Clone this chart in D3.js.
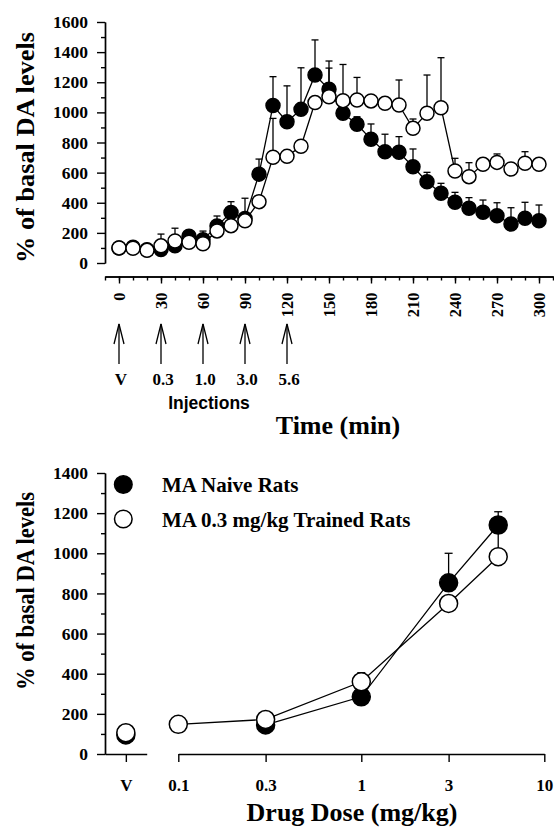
<!DOCTYPE html>
<html>
<head>
<meta charset="utf-8">
<script src="https://cdn.jsdelivr.net/npm/d3@7"></script>
<style>
	html, body { margin: 0; padding: 0; background: #fff; }
	svg { display: block; }
	.serif { font-family: "Liberation Serif", "Times New Roman", serif; font-weight: bold; }
	.sans { font-family: "Liberation Sans", Arial, sans-serif; font-weight: bold; }
</style>
</head>
<body>
<script>
//--time course data (top panel)
var timeMin = [0, 10, 20, 30, 40, 50, 60, 70, 80, 90, 100, 110, 120, 130, 140, 150, 160, 170, 180, 190, 200, 210, 220, 230, 240, 250, 260, 270, 280, 290, 300];
var naiveMean = [100, 105, 88, 90, 115, 178, 155, 245, 335, 295, 590, 1045, 938, 1020, 1248, 1153, 994, 921, 821, 739, 735, 639, 540, 463, 403, 363, 337, 314, 259, 297, 281];
var naiveSem = [8, 10, 8, 10, 10, 15, 57, 67, 72, 25, 100, 192, 238, 276, 233, 188, 40, 50, 102, 116, 104, 118, 62, 66, 66, 71, 81, 86, 108, 106, 104];
var trainedMean = [100, 98, 84, 114, 146, 138, 128, 213, 248, 280, 407, 702, 708, 775, 1065, 1104, 1078, 1082, 1076, 1060, 1049, 894, 994, 1031, 611, 573, 655, 668, 624, 662, 655];
var trainedSem = [5, 5, 5, 78, 85, 10, 10, 10, 10, 150, 20, 258, 0, 20, 0, 190, 240, 150, 0, 0, 166, 62, 254, 332, 84, 93, 20, 56, 0, 77, 0];
var timeTicks = [0, 30, 60, 90, 120, 150, 180, 210, 240, 270, 300];
var injTime = [0, 30, 60, 90, 120];
var injLabel = ["V", "0.3", "1.0", "3.0", "5.6"];

//--dose response data (bottom panel)
var doseVeh = ["V"];
var doses = [0.1, 0.3, 1, 3, 5.6];
var naiveVeh = 95;
var trainedVeh = 106;
var naiveDose = [null, 145, 285, 853, 1141];
var naiveDoseSem = [0, 0, 0, 147, 66];
var trainedDose = [148, 172, 360, 750, 983];
var trainedDoseSem = [0, 0, 45, 0, 140];
var doseTicks = [0.1, 0.3, 1, 3, 10];
var legendNames = ["MA Naive Rats", "MA 0.3 mg/kg Trained Rats"];

var svg = d3.select("body").append("svg")
	.attr("width", 554)
	.attr("height", 828);

function style_axis(g, fs) {
	g.select(".domain").attr("stroke", "#000").attr("stroke-width", 1.4);
	g.selectAll(".tick line").attr("stroke", "#000").attr("stroke-width", 1.4);
	g.selectAll(".tick text")
		.attr("class", "serif")
		.attr("fill", "#000")
		.style("font-size", fs + "px");
}

//draw one series: lines, error bars, markers
function draw_series(g, pts, x, y, r, filled, cap) {
	var line = d3.line()
		.defined(function (d) { return d.v != null; })
		.x(function (d) { return x(d.k); })
		.y(function (d) { return y(d.v); });
	g.append("path")
		.datum(pts)
		.attr("d", line)
		.attr("fill", "none")
		.attr("stroke", "#000")
		.attr("stroke-width", 1.3);
	return {
		errors: function () {
			var e = pts.filter(function (d) { return d.v != null && d.s > 0; });
			g.selectAll(null).data(e).enter().append("line")
				.attr("x1", function (d) { return x(d.k); })
				.attr("x2", function (d) { return x(d.k); })
				.attr("y1", function (d) { return y(d.v); })
				.attr("y2", function (d) { return y(d.v + d.s); })
				.attr("stroke", "#000").attr("stroke-width", 1.3);
			g.selectAll(null).data(e).enter().append("line")
				.attr("x1", function (d) { return x(d.k) - cap; })
				.attr("x2", function (d) { return x(d.k) + cap; })
				.attr("y1", function (d) { return y(d.v + d.s); })
				.attr("y2", function (d) { return y(d.v + d.s); })
				.attr("stroke", "#000").attr("stroke-width", 1.3);
		},
		markers: function () {
			g.selectAll(null).data(pts.filter(function (d) { return d.v != null; })).enter().append("circle")
				.attr("cx", function (d) { return x(d.k); })
				.attr("cy", function (d) { return y(d.v); })
				.attr("r", r)
				.attr("fill", filled ? "#000" : "#fff")
				.attr("stroke", "#000")
				.attr("stroke-width", 1.5);
		}
	};
}

/*--top panel--*/
var xT = d3.scaleLinear().domain([-10, 310]).range([105, 553]);
var yT = d3.scaleLinear().domain([0, 1600]).range([263, 22]);

var gyT = svg.append("g").attr("transform", "translate(105,0)")
	.call(d3.axisLeft(yT).tickValues(d3.range(0, 1601, 200)).tickSize(8).tickSizeOuter(0).tickPadding(9).tickFormat(d3.format("d")));
style_axis(gyT, 17.5);
var gyTm = svg.append("g").attr("transform", "translate(105,0)")
	.call(d3.axisLeft(yT).tickValues(d3.range(100, 1600, 200)).tickSize(4).tickSizeOuter(0).tickFormat(""));
style_axis(gyTm, 17);

var gxT = svg.append("g").attr("transform", "translate(0,276.5)")
	.call(d3.axisBottom(xT).tickValues(timeTicks).tickSize(7).tickSizeOuter(0).tickFormat(d3.format("d")));
style_axis(gxT, 16.5);
gxT.selectAll(".tick text")
	.attr("text-anchor", "end")
	.attr("transform", "translate(5.5,16) rotate(-90)")
	.attr("x", 0).attr("y", 0).attr("dy", 0);
var gxTm = svg.append("g").attr("transform", "translate(0,276.5)")
	.call(d3.axisBottom(xT).tickValues(d3.range(-10, 311, 10)).tickSize(4).tickSizeOuter(0).tickFormat(""));
style_axis(gxTm, 16);

var plotT = svg.append("g");
var ptsN = timeMin.map(function (t, i) { return { k: t, v: naiveMean[i], s: naiveSem[i] }; });
var ptsT = timeMin.map(function (t, i) { return { k: t, v: trainedMean[i], s: trainedSem[i] }; });
var sN = draw_series(plotT, ptsN, xT, yT, 7, true, 3.5);
var sT = draw_series(plotT, ptsT, xT, yT, 7, false, 3.5);
sN.errors();
sT.errors();
sN.markers();
sT.markers();

//injection arrows
var arr = svg.append("g");
injTime.forEach(function (t, i) {
	var ax = xT(t);
	arr.append("line")
		.attr("x1", ax).attr("x2", ax).attr("y1", 324).attr("y2", 364)
		.attr("stroke", "#000").attr("stroke-width", 1.3);
	arr.append("polyline")
		.attr("points", (ax - 5) + "," + 344 + " " + ax + "," + 324 + " " + (ax + 5) + "," + 344)
		.attr("fill", "none").attr("stroke", "#000").attr("stroke-width", 1.3);
	arr.append("text")
		.attr("class", "serif")
		.attr("x", ax + 2).attr("y", 385)
		.attr("text-anchor", "middle")
		.style("font-size", "17px")
		.text(injLabel[i]);
});
svg.append("text").attr("class", "sans")
	.attr("x", 209).attr("y", 408.5)
	.attr("text-anchor", "middle")
	.style("font-size", "17.5px")
	.text("Injections");
svg.append("text").attr("class", "serif")
	.attr("x", 338).attr("y", 434)
	.attr("text-anchor", "middle")
	.style("font-size", "26px")
	.text("Time (min)");
svg.append("text").attr("class", "serif")
	.attr("transform", "translate(34,147.5) rotate(-90)")
	.attr("text-anchor", "middle")
	.attr("textLength", 231).attr("lengthAdjust", "spacingAndGlyphs")
	.style("font-size", "25px")
	.text("% of basal DA levels");

/*--bottom panel--*/
var xV = d3.scalePoint().domain(doseVeh).range([105, 146.7]).padding(0.5);
var xD = d3.scaleLog().domain([0.1, 10]).range([178.3, 544.3]);
var yB = d3.scaleLinear().domain([0, 1400]).range([754, 473]);

var gyB = svg.append("g").attr("transform", "translate(105,0)")
	.call(d3.axisLeft(yB).tickValues(d3.range(0, 1401, 200)).tickSize(8).tickSizeOuter(0).tickPadding(9).tickFormat(d3.format("d")));
style_axis(gyB, 17.5);
var gyBm = svg.append("g").attr("transform", "translate(105,0)")
	.call(d3.axisLeft(yB).tickValues(d3.range(100, 1400, 200)).tickSize(4).tickSizeOuter(0).tickFormat(""));
style_axis(gyBm, 17);

var gxV = svg.append("g").attr("transform", "translate(0,754)")
	.call(d3.axisBottom(xV).tickSize(8).tickSizeOuter(0).tickPadding(17));
style_axis(gxV, 17);
var gxD = svg.append("g").attr("transform", "translate(0,754)")
	.call(d3.axisBottom(xD).tickValues(doseTicks).tickSize(8).tickSizeOuter(0).tickPadding(17)
		.tickFormat(function (d) { return String(d); }));
style_axis(gxD, 17);

var plotB = svg.append("g");
var bN = doses.map(function (d, i) { return { k: d, v: naiveDose[i], s: naiveDoseSem[i] }; });
var bT = doses.map(function (d, i) { return { k: d, v: trainedDose[i], s: trainedDoseSem[i] }; });
var dN = draw_series(plotB, bN, xD, yB, 9, true, 4);
var dT = draw_series(plotB, bT, xD, yB, 9, false, 4);
dN.errors();
dT.errors();
//vehicle points
var vN = draw_series(plotB, [{ k: "V", v: naiveVeh, s: 0 }], xV, yB, 9, true, 4);
var vT = draw_series(plotB, [{ k: "V", v: trainedVeh, s: 0 }], xV, yB, 9, false, 4);
vN.markers();
dN.markers();
vT.markers();
dT.markers();

//legend
var leg = svg.append("g");
legendNames.forEach(function (name, i) {
	var ly = 484.5 + i * 34.5;
	leg.append("circle")
		.attr("cx", 123.3).attr("cy", ly).attr("r", 8.8)
		.attr("fill", i == 0 ? "#000" : "#fff")
		.attr("stroke", "#000").attr("stroke-width", 1.5);
	leg.append("text").attr("class", "serif")
		.attr("x", 162).attr("y", ly + 7.8)
		.style("font-size", "21px")
		.text(name);
});

svg.append("text").attr("class", "serif")
	.attr("x", 352).attr("y", 821)
	.attr("text-anchor", "middle")
	.style("font-size", "26px")
	.text("Drug Dose (mg/kg)");
svg.append("text").attr("class", "serif")
	.attr("transform", "translate(34,591) rotate(-90)")
	.attr("text-anchor", "middle")
	.attr("textLength", 198).attr("lengthAdjust", "spacingAndGlyphs")
	.style("font-size", "25px")
	.text("% of basal DA levels");
</script>
</body>
</html>
